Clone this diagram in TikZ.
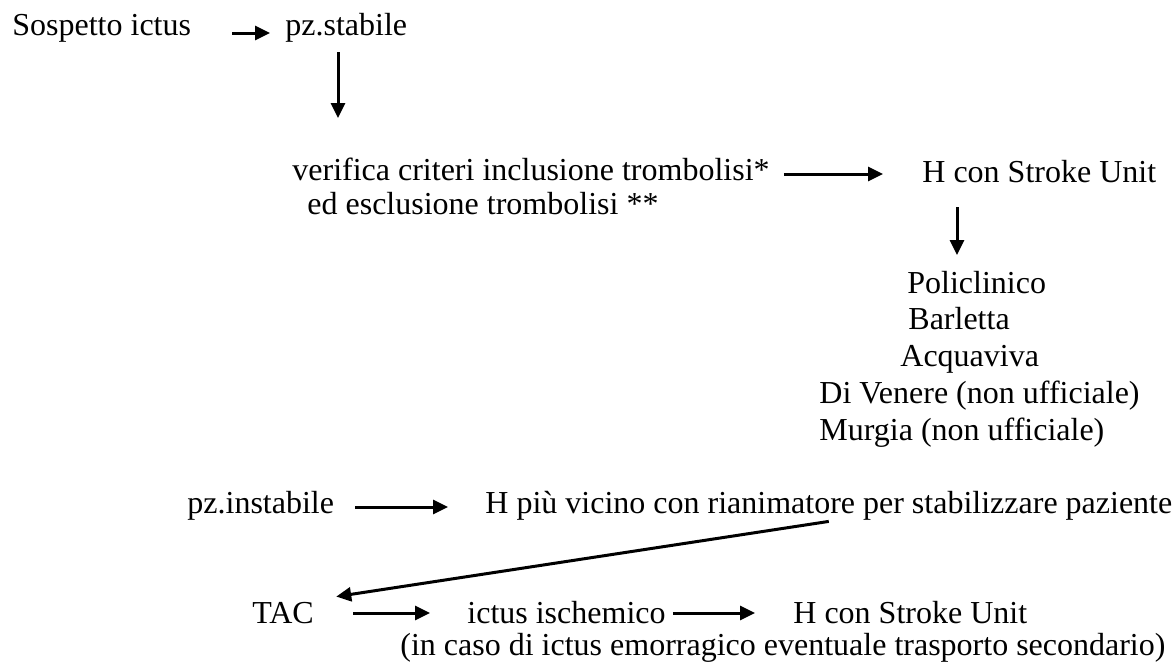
\documentclass[tikz,border=0pt]{standalone}
\usepackage{fontspec}
\setmainfont{Liberation Serif}
\usepackage{tikz}
\usetikzlibrary{arrows.meta}
\tikzset{lbl/.style={inner sep=0pt,anchor=base west,text height=10pt,text depth=4pt,
    font=\fontsize{16pt}{19pt}\selectfont}}
\tikzset{arr/.style={-{Triangle[length=7.5pt,width=7pt]},line width=1.5pt}}

\begin{document}
\begin{tikzpicture}[x=0.5pt,y=-0.5pt]
\useasboundingbox (0,0) rectangle (1174,666);
% \draw[help lines] (0,0) grid[step=50] (1174,666);
\node (sosp) [lbl] at (12,35) {Sospetto ictus};
\node (stab) [lbl] at (285,35) {pz.stabile};
\node (verif1) [lbl] at (292,180) {verifica criteri inclusione trombolisi*};
\node (verif2) [lbl] at (307,214) {ed esclusione trombolisi **};
\node (hsu1) [lbl] at (922,182) {H con Stroke Unit};
\node (pol) [lbl] at (907,293) {Policlinico};
\node (bar) [lbl] at (908,329) {Barletta};
\node (acq) [lbl] at (900,366) {Acquaviva};
\node (dive) [lbl] at (819,403) {Di Venere (non ufficiale)};
\node (mur) [lbl] at (819,440) {Murgia (non ufficiale)};
\node (instab) [lbl] at (187,513) {pz.instabile};
\node (hvic) [lbl] at (485,513) {H più vicino con rianimatore per stabilizzare paziente};
\node (tac) [lbl] at (252,623) {TAC};
\node (isch) [lbl] at (467,623) {ictus ischemico};
\node (hsu2) [lbl] at (793,623) {H con Stroke Unit};
\node (emor) [lbl] at (400,655) {(in caso di ictus emorragico eventuale trasporto secondario)};
\coordinate (d1) at (338,118);
\coordinate (d2) at (957,255);
%
\path[arr,shorten <=20.5pt,shorten >=7.5pt]([yshift=-2pt]sosp.east) edge ([yshift=-2pt]stab.west);
\path[arr,shorten <=4.5pt](stab.south -| d1) edge (d1);
\path[arr,shorten <=7pt,shorten >=19.5pt](verif1.east) edge (verif1.east -| hsu1.west);
\path[arr,shorten <=8.5pt](hsu1.south -| d2) edge (d2);
\path[arr,shorten <=10.5pt,shorten >=18.5pt](instab.east) edge (hvic.west);
\path[arr](hvic.south) edge ([xshift=11pt,yshift=3pt]tac.north east);
\path[arr,shorten <=19.5pt,shorten >=18.5pt]([yshift=2pt]tac.east) edge ([yshift=2pt]isch.west);
\path[arr,shorten <=3.5pt,shorten >=19pt]([yshift=2pt]isch.east) edge ([yshift=2pt]hsu2.west);
\end{tikzpicture}
\end{document}
